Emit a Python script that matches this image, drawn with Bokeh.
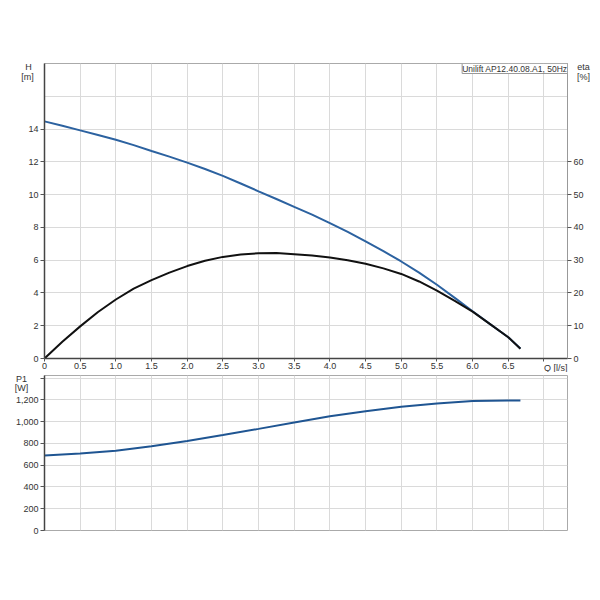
from bokeh.plotting import figure
from bokeh.models import Range1d, LinearAxis, FixedTicker, Label, NumeralTickFormatter
from bokeh.layouts import column
from bokeh.embed import file_html
from bokeh.resources import INLINE

# pump curves
q = [0, 0.25, 0.5, 0.75, 1.0, 1.25, 1.5, 1.75, 2.0, 2.25, 2.5, 2.75, 3.0, 3.25, 3.5,
     3.75, 4.0, 4.25, 4.5, 4.75, 5.0, 5.25, 5.5, 5.75, 6.0, 6.25, 6.5, 6.67]
head = [14.47, 14.2, 13.92, 13.64, 13.35, 13.02, 12.66, 12.32, 11.95, 11.56, 11.14, 10.68, 10.2, 9.73, 9.25,
        8.78, 8.26, 7.72, 7.14, 6.55, 5.92, 5.24, 4.5, 3.7, 2.88, 2.08, 1.3, 0.61]
eta = [0, 5.1, 9.8, 14.2, 18.0, 21.3, 23.9, 26.2, 28.2, 29.8, 31.0, 31.7, 32.1, 32.2, 31.8,
       31.4, 30.8, 30.0, 28.9, 27.5, 25.8, 23.5, 20.7, 17.6, 14.3, 10.4, 6.5, 3.0]
q_p = [0, 0.5, 1.0, 1.5, 2.0, 2.5, 3.0, 3.5, 4.0, 4.5, 5.0, 5.5, 6.0, 6.5, 6.67]
power = [688, 706, 733, 773, 821, 876, 933, 991, 1048, 1094, 1136, 1167, 1188, 1194, 1194]

x_ticks = [0, 0.5, 1.0, 1.5, 2.0, 2.5, 3.0, 3.5, 4.0, 4.5, 5.0, 5.5, 6.0, 6.5, 7.0]
x_labels = ["0", "0.5", "1.0", "1.5", "2.0", "2.5", "3.0", "3.5", "4.0", "4.5", "5.0", "5.5", "6.0", "6.5", ""]
x_grid = [0, 0.5, 1.0, 1.5, 2.0, 2.5, 3.0, 3.5, 4.0, 4.5, 5.0, 5.5, 6.0, 6.5, 7.0]
h_ticks = [0, 2, 4, 6, 8, 10, 12, 14]
h_grid = [0, 2, 4, 6, 8, 10, 12, 14, 16, 18]
eta_ticks = [0, 10, 20, 30, 40, 50, 60]
p_ticks = [0, 200, 400, 600, 800, 1000, 1200, 1400]

FONT = "Liberation Sans"
FS = "9px"
TXT = "#333333"
BLUE = "#2c62a0"
GRID = "#dadada"


def style_axis(ax, dark=True):
    ax.axis_line_color = "#444444" if dark else "#999999"
    ax.axis_line_width = 1.5 if dark else 1
    ax.major_tick_line_color = "#555555"
    ax.major_tick_out = 4
    ax.major_tick_in = 0
    ax.minor_tick_line_color = None
    ax.major_label_text_font = FONT
    ax.major_label_text_font_size = FS
    ax.major_label_text_color = TXT
    ax.major_label_standoff = 2


def txt(p, side, x, y, s, **kw):
    # labels outside the frame sit in a side panel so they are not clipped
    p.add_layout(Label(x=x, y=y, text=s, text_font=FONT, text_font_size=FS,
                       text_color=TXT, **kw), side)


# --- upper plot: H and eta ---
p1 = figure(width=592, height=372, x_range=Range1d(0, 7.33), y_range=Range1d(0, 18),
            output_backend="svg", toolbar_location=None,
            min_border_left=44, min_border_right=25, min_border_top=63, min_border_bottom=14)
p1.extra_y_ranges = {"eta": Range1d(0, 90)}
p1.add_layout(LinearAxis(y_range_name="eta"), "right")
p1.outline_line_color = "#aaaaaa"

p1.xaxis.ticker = FixedTicker(ticks=x_ticks)
p1.xaxis.major_label_overrides = dict(zip(x_ticks, x_labels))
p1.yaxis[0].ticker = FixedTicker(ticks=h_ticks)
p1.yaxis[1].ticker = FixedTicker(ticks=eta_ticks)
for ax in p1.xaxis:
    style_axis(ax)
style_axis(p1.yaxis[0])
style_axis(p1.yaxis[1], dark=False)
p1.xaxis.major_tick_out = 3
p1.xaxis.major_label_standoff = 1

p1.xgrid.ticker = FixedTicker(ticks=x_grid)
p1.ygrid.ticker = FixedTicker(ticks=h_grid)
p1.grid.grid_line_color = GRID

p1.line(q, head, line_color=BLUE, line_width=2)
p1.line(q, eta, line_color="#111111", line_width=2, y_range_name="eta")

txt(p1, "above", 0, 18, "H", text_align="center", text_baseline="middle", x_offset=-16, y_offset=-3)
txt(p1, "above", 0, 18, "[m]", text_align="center", text_baseline="middle", x_offset=-17, y_offset=-13)
txt(p1, "above", 7.33, 18, "eta", text_align="center", text_baseline="middle", x_offset=16, y_offset=-3)
txt(p1, "above", 7.33, 18, "[%]", text_align="center", text_baseline="middle", x_offset=16, y_offset=-13)
txt(p1, "above", 7.0, 0, "Q [l/s]", text_align="left", text_baseline="middle", y_offset=-9)
p1.add_layout(Label(x=7.33, y=18, text="Unilift AP12.40.08.A1, 50Hz", text_font=FONT,
                    text_font_size="8.5px", text_color=TXT, text_align="right",
                    text_baseline="top", x_offset=0, y_offset=0,
                    border_line_color="#999999", background_fill_color="white"))

# --- lower plot: P1 ---
p2 = figure(width=592, height=188, x_range=p1.x_range, y_range=Range1d(0, 1423),
            x_axis_location=None, output_backend="svg", toolbar_location=None,
            min_border_left=44, min_border_right=25, min_border_top=3, min_border_bottom=30)
p2.outline_line_color = "#aaaaaa"
p2.yaxis.ticker = FixedTicker(ticks=p_ticks)
p2.yaxis.formatter = NumeralTickFormatter(format="0,0")
p2.yaxis.major_label_overrides = {1400: ""}
style_axis(p2.yaxis[0])
p2.xgrid.ticker = FixedTicker(ticks=x_grid)
p2.ygrid.ticker = FixedTicker(ticks=p_ticks)
p2.grid.grid_line_color = GRID

p2.line(q_p, power, line_color="#1f5592", line_width=2)

txt(p2, "below", 0, 1400, "P1", text_align="center", text_baseline="middle", x_offset=-23, y_offset=-1)
txt(p2, "below", 0, 1400, "[W]", text_align="center", text_baseline="middle", x_offset=-23, y_offset=-10)

layout = column(p1, p2)
open("out.html", "w").write(file_html(layout, INLINE))
